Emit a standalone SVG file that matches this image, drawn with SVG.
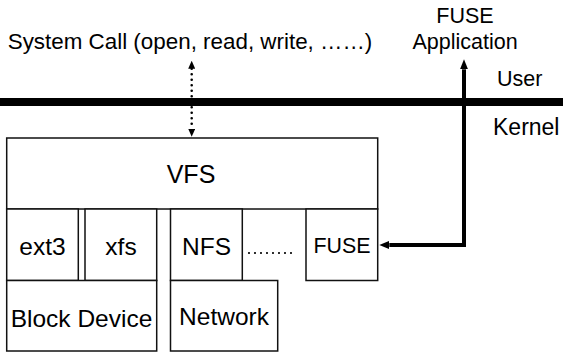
<svg xmlns="http://www.w3.org/2000/svg" width="563" height="353" viewBox="0 0 563 353">
<style>
text{font-family:"Liberation Sans",Arial,sans-serif;font-size:21.5px;fill:#000}
.box{fill:#fff;stroke:#111;stroke-width:1.5}
.bt{font-size:24.5px;text-anchor:middle}
</style>
<defs>
<marker id="ah" viewBox="0 0 10 8" refX="0" refY="4" markerWidth="10" markerHeight="8" markerUnits="userSpaceOnUse" orient="auto"><path d="M0,0L10,4L0,8z" fill="#000"/></marker>
<marker id="ahs" viewBox="0 0 8 7" refX="0" refY="3.5" markerWidth="8" markerHeight="7" markerUnits="userSpaceOnUse" orient="auto-start-reverse"><path d="M0,0L8,3.5L0,7z" fill="#000"/></marker>
</defs>
<rect width="563" height="353" fill="#fff"/>
<g id="labels">
<text x="190" y="49" text-anchor="middle" style="font-size:22.4px">System Call (open, read, write, ……)</text>
<text x="465" y="23" text-anchor="middle">FUSE</text>
<text x="465" y="49" text-anchor="middle">Application</text>
<text x="497" y="86">User</text>
<text x="493" y="135" style="font-size:23px">Kernel</text>
</g>
<g id="boundary"><line x1="0" y1="102" x2="563" y2="102" stroke="#000" stroke-width="8"/></g>
<g id="vfs"><rect class="box" x="6.7" y="138" width="371" height="71"/><text class="bt" x="191" y="183" style="font-size:25px">VFS</text></g>
<g id="ext3"><rect class="box" x="6.7" y="209" width="71.6" height="71.5"/><text class="bt" x="42.5" y="255">ext3</text></g>
<g id="xfs"><rect class="box" x="85" y="209" width="71.7" height="71.5"/><text class="bt" x="121" y="255">xfs</text></g>
<g id="nfs"><rect class="box" x="170.5" y="209" width="71.8" height="71.5"/><text class="bt" x="206.5" y="255">NFS</text></g>
<g id="fuse"><rect class="box" x="306" y="209" width="71.7" height="71.5"/><text class="bt" x="342" y="253" style="font-size:21.4px">FUSE</text></g>
<g id="block"><rect class="box" x="6.7" y="280.5" width="150" height="70.5"/><text class="bt" x="81.5" y="326.7">Block Device</text></g>
<g id="network"><rect class="box" x="170.5" y="280.5" width="107.2" height="70.5"/><text class="bt" x="224" y="325">Network</text></g>
<g id="connectors">
<line x1="191.7" y1="68.7" x2="191.7" y2="128.7" stroke="#000" stroke-width="2.6" stroke-linecap="round" stroke-dasharray="0 5.5" marker-start="url(#ahs)" marker-end="url(#ahs)"/>
<line x1="249" y1="253" x2="297" y2="253" stroke="#000" stroke-width="2.2" stroke-linecap="round" stroke-dasharray="0 6"/>
<polyline points="464,247 464,245 389.3,245" fill="none" stroke="#000" stroke-width="4" marker-end="url(#ah)"/>
<line x1="464" y1="247" x2="464" y2="69.3" stroke="#000" stroke-width="4" marker-end="url(#ah)"/>
</g>
</svg>
